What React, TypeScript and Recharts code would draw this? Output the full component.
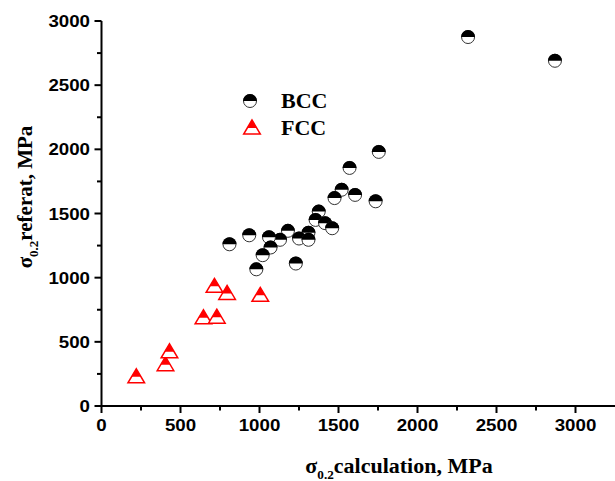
import React from 'react';
import { ScatterChart, Scatter, XAxis, YAxis, Legend } from 'recharts';

const bccX = [1755, 1570, 1520, 1605, 1475, 1735, 1375, 1355, 1415, 1460, 1310, 1180, 1250, 1310, 1130, 1060, 935, 810, 1070, 1020, 980, 1230, 2320, 2870];
const bccY = [1980, 1855, 1685, 1645, 1620, 1595, 1515, 1450, 1425, 1385, 1350, 1365, 1305, 1295, 1295, 1315, 1330, 1260, 1235, 1175, 1065, 1110, 2875, 2690];
const fccX = [220, 405, 430, 645, 730, 715, 795, 1005];
const fccY = [235, 330, 430, 695, 700, 940, 885, 870];

const xTicks = [0, 250, 500, 750, 1000, 1250, 1500, 1750, 2000, 2250, 2500, 2750, 3000];
const yTicks = [0, 250, 500, 750, 1000, 1250, 1500, 1750, 2000, 2250, 2500, 2750, 3000];
const seriesNames = ['BCC', 'FCC'];

const bccData = bccX.map((x, i) => ({ x, y: bccY[i] }));
const fccData = fccX.map((x, i) => ({ x, y: fccY[i] }));

const SERIF = '"Liberation Serif", "Times New Roman", serif';
const SANS = '"Liberation Sans", Arial, sans-serif';

const BccMark = ({ cx, cy }: any) => {
  const r = 7;
  return (
    <g>
      <circle cx={cx} cy={cy} r={r - 0.5} fill="#fff" stroke="#333" strokeWidth={1} />
      <path d={`M ${cx - r} ${cy} A ${r} ${r} 0 0 1 ${cx + r} ${cy} Z`} fill="#000" />
    </g>
  );
};

const FccMark = ({ cx, cy }: any) => {
  const h = 7;
  const w = 8.3;
  const split = 8 / 14;
  return (
    <g>
      <polygon
        points={`${cx},${cy - h} ${cx - w},${cy + h} ${cx + w},${cy + h}`}
        fill="#fff"
        stroke="#ff0000"
        strokeWidth={1.5}
        strokeLinejoin="miter"
      />
      <polygon
        points={`${cx},${cy - h} ${cx - w * split},${cy - h + 2 * h * split} ${cx + w * split},${cy - h + 2 * h * split}`}
        fill="#ff0000"
      />
    </g>
  );
};

const XTick = ({ x, y, payload }: any) => {
  const major = payload.value % 500 === 0;
  return (
    <g>
      <line x1={x} x2={x} y1={y} y2={y + (major ? 7 : 4.5)} stroke="#000" strokeWidth={2} />
      {major && (
        <text
          transform={`translate(${x},${y + 25}) scale(1.1,1)`}
          textAnchor="middle"
          fontFamily={SANS}
          fontWeight="bold"
          fontSize={17}
          fill="#000"
        >
          {payload.value}
        </text>
      )}
    </g>
  );
};

const YTick = ({ x, y, payload }: any) => {
  const major = payload.value % 500 === 0;
  return (
    <g>
      <line x1={x - (major ? 7 : 4.5)} x2={x} y1={y} y2={y} stroke="#000" strokeWidth={2} />
      {major && (
        <text
          transform={`translate(${x - 11.5},${y + 6}) scale(1.1,1)`}
          textAnchor="end"
          fontFamily={SANS}
          fontWeight="bold"
          fontSize={17}
          fill="#000"
        >
          {payload.value}
        </text>
      )}
    </g>
  );
};

const XLabel = () => (
  <text
    transform="translate(399,473) scale(1.1,1)"
    textAnchor="middle"
    fontFamily={SERIF}
    fontWeight="bold"
    fontSize={20}
    fill="#000"
  >
    σ<tspan fontSize={12} dy={6}>0.2</tspan>
    <tspan dy={-6}>calculation, MPa</tspan>
  </text>
);

const YLabel = () => (
  <text
    transform="translate(32,197) rotate(-90)"
    textAnchor="middle"
    fontFamily={SERIF}
    fontWeight="bold"
    fontSize={21}
    fill="#000"
  >
    σ<tspan fontSize={13} dy={6}>0.2</tspan>
    <tspan dy={-6}>referat, MPa</tspan>
  </text>
);

const LegendContent = () => (
  <svg width={110} height={56} style={{ display: 'block' }}>
    <BccMark cx={14} cy={15} />
    <text transform="translate(45,22) scale(1.1,1)" fontFamily={SERIF} fontWeight="bold" fontSize={20} fill="#000">
      {seriesNames[0]}
    </text>
    <FccMark cx={16} cy={41} />
    <text transform="translate(45,49) scale(1.1,1)" fontFamily={SERIF} fontWeight="bold" fontSize={20} fill="#000">
      {seriesNames[1]}
    </text>
  </svg>
);

export default function App() {
  return (
    <div style={{ position: 'absolute', left: 0, top: 0, width: 615, height: 481 }}>
      <ScatterChart width={615} height={481} margin={{ top: 21, right: 0, bottom: 0, left: 0 }}>
        <XAxis
          type="number"
          dataKey="x"
          domain={[0, 3250]}
          ticks={xTicks}
          interval={0}
          height={75}
          tickSize={0}
          tickMargin={0}
          tickLine={false}
          axisLine={{ stroke: '#000', strokeWidth: 2 }}
          tick={<XTick />}
          label={{ content: () => <XLabel /> }}
        />
        <YAxis
          type="number"
          dataKey="y"
          domain={[0, 3000]}
          ticks={yTicks}
          interval={0}
          width={101.5}
          tickSize={0}
          tickMargin={0}
          tickLine={false}
          axisLine={{ stroke: '#000', strokeWidth: 2 }}
          tick={<YTick />}
          label={{ content: () => <YLabel /> }}
        />
        <Legend
          layout="horizontal"
          verticalAlign="middle"
          align="center"
          wrapperStyle={{ left: 236, top: 86, width: 110, height: 56 }}
          content={() => <LegendContent />}
        />
        <Scatter name={seriesNames[0]} data={bccData} shape={(p: any) => <BccMark cx={p.cx} cy={p.cy} />} isAnimationActive={false} />
        <Scatter name={seriesNames[1]} data={fccData} shape={(p: any) => <FccMark cx={p.cx} cy={p.cy} />} isAnimationActive={false} />
      </ScatterChart>
    </div>
  );
}
